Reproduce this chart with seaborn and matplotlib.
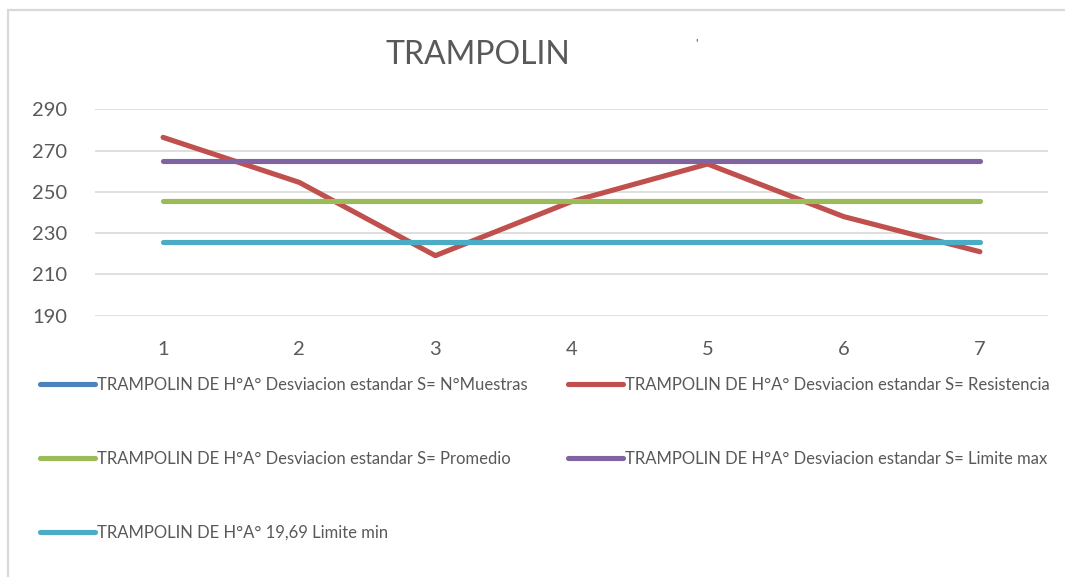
import matplotlib
matplotlib.use("Agg")
import matplotlib.pyplot as plt
import seaborn as sns
import pandas as pd
from matplotlib.patches import Rectangle

# --- data -------------------------------------------------------------
muestras = [1, 2, 3, 4, 5, 6, 7]
resistencia = [276.4, 254.6, 219.1, 245.3, 263.5, 238.0, 221.0]
promedio = [245.4] * 7
limite_max = [265.1] * 7
limite_min = [225.7] * 7

series_names = [
    "TRAMPOLIN DE H°A° Desviacion estandar S= N°Muestras",
    "TRAMPOLIN DE H°A° Desviacion estandar S= Resistencia",
    "TRAMPOLIN DE H°A° Desviacion estandar S= Promedio",
    "TRAMPOLIN DE H°A° Desviacion estandar S= Limite max",
    "TRAMPOLIN DE H°A° 19,69 Limite min",
]
series_values = [muestras, resistencia, promedio, limite_max, limite_min]
series_colors = ["#4F81BD", "#C0504D", "#9BBB59", "#8064A2", "#4BACC6"]

y_ticks = [190, 210, 230, 250, 270, 290]
title = "TRAMPOLIN"

# long-form table for seaborn
df = pd.concat(
    [pd.DataFrame({"muestra": muestras, "valor": vals, "serie": name})
     for name, vals in zip(series_names, series_values)],
    ignore_index=True,
)

# --- style ------------------------------------------------------------
sns.set_theme(style="white")
plt.rcParams["font.family"] = ["Lato", "DejaVu Sans"]
text_gray = "#595959"
grid_gray = "#D9D9D9"

W, H = 1065, 577
fig = plt.figure(figsize=(W / 100, H / 100), dpi=100)
fig.patch.set_facecolor("white")

# chart-area border (top and left edges visible)
fig.patches.append(Rectangle((8 / W, -0.05), 1.2, 1 - 10 / H + 0.05,
                             transform=fig.transFigure, fill=False,
                             edgecolor=grid_gray, linewidth=1.6, zorder=0))

left, right = 95 / W, 1048 / W
top, bottom = 1 - 109.3 / H, 1 - 315.7 / H
ax = fig.add_axes([left, bottom, right - left, top - bottom])

sns.lineplot(data=df, x="muestra", y="valor", hue="serie",
             hue_order=series_names, palette=series_colors,
             linewidth=3.7, sort=False, ax=ax,
             solid_capstyle="round", solid_joinstyle="round", zorder=3)

ax.set_xlim(0.5, 7.5)
ax.set_ylim(y_ticks[0], y_ticks[-1])
ax.set_xticks(muestras)
ax.set_xticklabels([str(m) for m in muestras])
ax.set_yticks(y_ticks)
ax.set_xlabel("")
ax.set_ylabel("")
for s in ax.spines.values():
    s.set_visible(False)
ax.yaxis.grid(True, color=grid_gray, linewidth=1.2, zorder=0)
ax.set_axisbelow(True)
ax.tick_params(axis="both", length=0, labelsize=14.5, colors=text_gray)
ax.tick_params(axis="y", pad=20)
ax.tick_params(axis="x", pad=18)
for line in ax.get_lines():
    line.set_clip_on(True)

# title
fig.text(478 / W, 1 - 55 / H, title, ha="center", va="center",
         fontsize=23, color=text_gray)
fig.text(697 / W, 1 - 45 / H, "'", ha="center", va="center",
         fontsize=9, color=text_gray)

# legend below the plot, two columns filled row by row
handles, labels = ax.get_legend_handles_labels()
ax.get_legend().remove()
order = [0, 2, 4, 1, 3]
leg = fig.legend([handles[i] for i in order], [labels[i] for i in order],
                 loc="upper left", bbox_to_anchor=(40 / W, 1 - 377 / H),
                 ncol=2, frameon=False, fontsize=12,
                 handlelength=3.3, handletextpad=0.12,
                 columnspacing=2.4, labelspacing=3.48,
                 borderaxespad=0, borderpad=0)
for t in leg.get_texts():
    t.set_color(text_gray)
for h in leg.legend_handles:
    h.set_linewidth(3.7)
    h.set_solid_capstyle("round")

fig.savefig("out.png", dpi=100, facecolor="white")
